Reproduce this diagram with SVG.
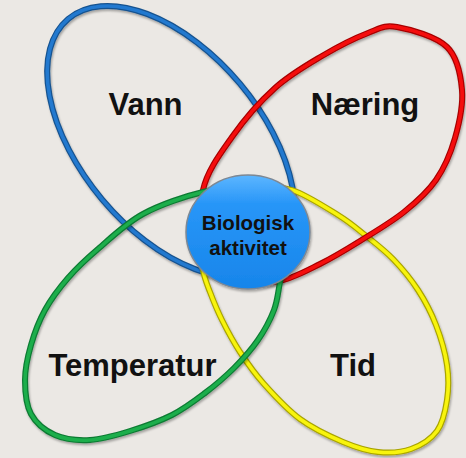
<svg xmlns="http://www.w3.org/2000/svg" width="466" height="458" viewBox="0 0 466 458">
<defs>
<filter id="sh" x="-10%" y="-10%" width="120%" height="120%">
<feDropShadow dx="1" dy="2" stdDeviation="1.2" flood-color="#000" flood-opacity="0.3"/>
</filter>
<linearGradient id="cg" x1="0" y1="0" x2="0" y2="1">
<stop offset="0" stop-color="#5db6ff"/>
<stop offset="0.25" stop-color="#2896f8"/>
<stop offset="1" stop-color="#1785ea"/>
</linearGradient>
<path id="py" d="M292 190C305.33 194.17 325.83 207.5 338 215C350.17 222.5 355.83 227.67 365 235C374.17 242.33 384.17 249.83 393 259C401.83 268.17 410.83 279 418 290C425.17 301 431.17 312.5 436 325C440.83 337.5 445.17 352.5 447 365C448.83 377.5 448.67 389 447 400C445.33 411 443 422.83 437 431C431 439.17 420.83 445.5 411 449C401.17 452.5 389.33 453.17 378 452C366.67 450.83 356 447.5 343 442C330 436.5 313.17 428.67 300 419C286.83 409.33 274 395.17 264 384C254 372.83 247 362.67 240 352C233 341.33 227 330 222 320C217 310 213.17 300.33 210 292C206.83 283.67 204.5 278.67 203 270C201.5 261.33 197.83 251.17 201 240C204.17 228.83 212.5 211.33 222 203C231.5 194.67 246.33 192.17 258 190C269.67 187.83 278.67 185.83 292 190Z"/>
<path id="pr" d="M397 27C410.2 29.3 436.2 36.5 447 47C457.8 57.5 460.7 74.8 462 90C463.3 105.2 459.3 123 455 138C450.7 153 444.5 167.7 436 180C427.5 192.3 416.7 201.8 404 212C391.3 222.2 374 232.3 360 241C346 249.7 333.5 257.3 320 264C306.5 270.7 292.3 278.7 279 281C265.7 283.3 251.8 283.2 240 278C228.2 272.8 214.2 264.7 208 250C201.8 235.3 199 208.8 203 190C207 171.2 220 154 232 137C244 120 260 101.5 275 88C290 74.5 306.5 65.2 322 56C337.5 46.8 355.5 37.8 368 33C380.5 28.2 383.8 24.7 397 27Z"/>
<path id="pg" d="M25 380C25 368.5 27.67 356.67 31 345C34.33 333.33 38.83 321.17 45 310C51.17 298.83 59.17 288.17 68 278C76.83 267.83 85.5 259.67 98 249C110.5 238.33 125.5 223.5 143 214C160.5 204.5 186 196 203 192C220 188 232.5 186.17 245 190C257.5 193.83 271.33 204.17 278 215C284.67 225.83 284.67 243.83 285 255C285.33 266.17 281.83 272.83 280 282C278.17 291.17 277.67 300.33 274 310C270.33 319.67 264.67 330.33 258 340C251.33 349.67 242.83 359.17 234 368C225.17 376.83 215.33 385.17 205 393C194.67 400.83 184.5 408.67 172 415C159.5 421.33 143.67 426.83 130 431C116.33 435.17 102.5 439.33 90 440C77.5 440.67 64.83 439.33 55 435C45.17 430.67 36 423.17 31 414C26 404.83 25 391.5 25 380Z"/>
</defs>
<style>
.o{fill:none;stroke-width:6}
.i{fill:none;stroke-width:3.6}
.lbl{font-family:"Liberation Sans",Arial,sans-serif;font-weight:bold;font-size:31px;fill:#111;text-anchor:middle}
.clbl{font-family:"Liberation Sans",Arial,sans-serif;font-weight:bold;font-size:20.5px;fill:#111;text-anchor:middle}
</style>
<rect width="466" height="458" fill="#ebe8e4"/>
<g id="vann">
<g filter="url(#sh)">
<ellipse class="o" stroke="#15528f" cx="171" cy="141.5" rx="160" ry="90" transform="rotate(50 171 141.5)"/>
<ellipse class="i" stroke="#2479cf" cx="171" cy="141.5" rx="160" ry="90" transform="rotate(50 171 141.5)"/>
</g>
<text class="lbl" x="145.5" y="115">Vann</text>
</g>
<g id="tid">
<g filter="url(#sh)">
<use href="#py" class="o" stroke="#a9a400"/>
<use href="#py" class="i" stroke="#f8f40a"/>
</g>
<text class="lbl" x="353" y="376">Tid</text>
</g>
<g id="naering">
<g filter="url(#sh)">
<use href="#pr" class="o" stroke="#a80000"/>
<use href="#pr" class="i" stroke="#f51010"/>
</g>
<text class="lbl" x="365" y="115">Næring</text>
</g>
<g id="temperatur">
<g filter="url(#sh)">
<use href="#pg" class="o" stroke="#0c7a32"/>
<use href="#pg" class="i" stroke="#1cae4c"/>
</g>
<text class="lbl" x="132.5" y="376">Temperatur</text>
</g>
<g id="biologisk-aktivitet">
<ellipse cx="248" cy="232" rx="62" ry="57" fill="url(#cg)" stroke="#7d8894" stroke-width="1.5" filter="url(#sh)"/>
<text class="clbl" x="248" y="230">Biologisk</text>
<text class="clbl" x="248" y="255">aktivitet</text>
</g>
<g id="connectors"/>
</svg>
